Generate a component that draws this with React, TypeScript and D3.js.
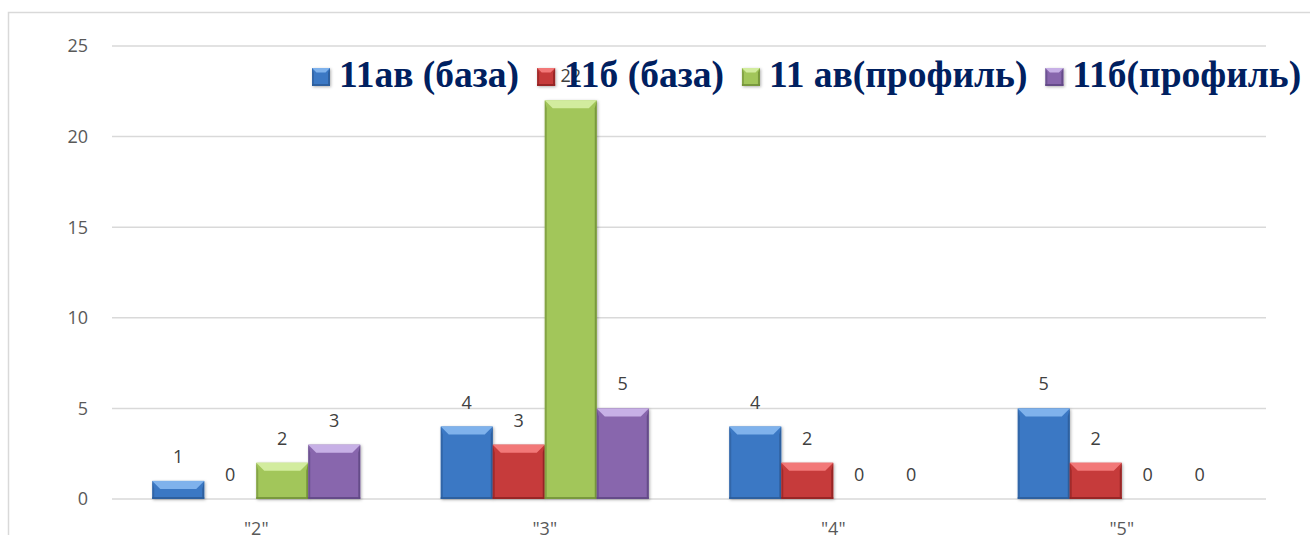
import React from "react";
import * as d3 from "d3";

const categories = ['"2"', '"3"', '"4"', '"5"'];
const seriesNames = ["11ав (база)", "11б (база)", "11 ав(профиль)", "11б(профиль)"];
const s11avBase = [1, 4, 4, 5];
const s11bBase = [0, 3, 2, 2];
const s11avProf = [2, 22, 0, 0];
const s11bProf = [3, 5, 0, 0];
const yTicks = [0, 5, 10, 15, 20, 25];

const seriesValues = [s11avBase, s11bBase, s11avProf, s11bProf];

// base, light bevel, dark edge
const palette = [
  { base: "#3b78c4", light: "#7fb2ec", dark: "#2b5a96" },
  { base: "#c63a3a", light: "#f27878", dark: "#8c2222" },
  { base: "#a2c65a", light: "#d2ec9e", dark: "#6f8d35" },
  { base: "#8866ad", light: "#c7b0e6", dark: "#5c4580" },
];

const W = 1310,
  H = 535;
const plot = { left: 112, right: 1266, top: 46, bottom: 499 };

const labelFont = "'Open Sans', 'DejaVu Sans', sans-serif";
const legendFont = "'Liberation Serif', 'Times New Roman', serif";
const legendSize = 37.5;

let measureCtx: CanvasRenderingContext2D | null = null;
const textWidth = (txt: string, font: string) => {
  if (!measureCtx) measureCtx = document.createElement("canvas").getContext("2d");
  if (!measureCtx) return txt.length * 16;
  measureCtx.font = font;
  return measureCtx.measureText(txt).width;
};

const Bar3D = ({ x, y, w, h, c }: any) => {
  if (h <= 0) return null;
  const b = Math.min(8, h / 2, w / 4);
  const e = 2;
  return (
    <g filter="url(#shadow)">
      <rect x={x} y={y} width={w} height={h} fill={c.base} />
      <polygon
        points={`${x},${y} ${x + w},${y} ${x + w - b},${y + b} ${x + b},${y + b}`}
        fill={c.light}
      />
      <polygon
        points={`${x},${y} ${x + e},${y + b} ${x + e},${y + h - e} ${x},${y + h}`}
        fill={c.dark}
        opacity={0.6}
      />
      <polygon
        points={`${x + w},${y} ${x + w - e},${y + b} ${x + w - e},${y + h - e} ${x + w},${y + h}`}
        fill={c.dark}
        opacity={0.8}
      />
      <rect x={x} y={y + h - e} width={w} height={e} fill={c.dark} opacity={0.8} />
    </g>
  );
};

export default function App() {
  const x0 = d3
    .scaleBand<string>()
    .domain(categories)
    .range([plot.left, plot.right])
    .paddingInner(0.279)
    .paddingOuter(0.1395);
  const x1 = d3
    .scaleBand<number>()
    .domain(d3.range(seriesValues.length))
    .range([0, x0.bandwidth()]);
  const y = d3.scaleLinear().domain([0, 25]).range([plot.bottom, plot.top]);

  // legend layout
  const legendFontSpec = `bold ${legendSize}px ${legendFont}`;
  let cursor = 312;
  const legendItems = seriesNames.map((name, i) => {
    const item = { name, i, sx: cursor, tx: cursor + 27 };
    cursor = item.tx + textWidth(name, legendFontSpec) + 18;
    return item;
  });

  return (
    <svg
      width={W}
      height={H}
      style={{ position: "absolute", left: 0, top: 0, background: "#fff" }}
    >
      <defs>
        <filter id="shadow" x="-20%" y="-20%" width="140%" height="140%">
          <feDropShadow dx="1" dy="1" stdDeviation="1.5" floodColor="#000" floodOpacity="0.3" />
        </filter>
      </defs>
      <rect x={8.5} y={12.5} width={W + 20} height={H + 50} fill="none" stroke="#d9d9d9" strokeWidth={1.5} />

      {/* gridlines + y labels */}
      {yTicks.map((t) => (
        <g key={t}>
          <line x1={plot.left} x2={plot.right} y1={y(t)} y2={y(t)} stroke="#d9d9d9" strokeWidth={1.5} />
          <text
            x={88}
            y={y(t)}
            dy="0.36em"
            textAnchor="end"
            fontFamily={labelFont}
            fontSize={18}
            fill="#595959"
          >
            {t}
          </text>
        </g>
      ))}

      {/* bars */}
      {categories.map((cat, ci) => (
        <g key={cat}>
          {seriesValues.map((vals, si) => {
            const bx = (x0(cat) as number) + (x1(si) as number);
            const by = y(vals[ci]);
            return (
              <Bar3D key={si} x={bx} y={by} w={x1.bandwidth()} h={y(0) - by} c={palette[si]} />
            );
          })}
        </g>
      ))}

      {/* value labels */}
      {categories.map((cat, ci) =>
        seriesValues.map((vals, si) => (
          <text
            key={cat + si}
            x={(x0(cat) as number) + (x1(si) as number) + x1.bandwidth() / 2}
            y={y(vals[ci]) - 18}
            textAnchor="middle"
            fontFamily={labelFont}
            fontSize={18}
            fill="#404040"
          >
            {vals[ci]}
          </text>
        ))
      )}

      {/* category labels */}
      {categories.map((cat) => (
        <text
          key={cat}
          x={(x0(cat) as number) + x0.bandwidth() / 2}
          y={535}
          textAnchor="middle"
          fontFamily={labelFont}
          fontSize={18}
          fill="#595959"
        >
          {cat}
        </text>
      ))}

      {/* legend */}
      {legendItems.map((it) => (
        <g key={it.name}>
          <Bar3D x={it.sx} y={68} w={18} h={18} c={palette[it.i]} />
          <text
            x={it.tx}
            y={87}
            fontFamily={legendFont}
            fontWeight="bold"
            fontSize={legendSize}
            fill="#002060"
          >
            {it.name}
          </text>
        </g>
      ))}
    </svg>
  );
}
